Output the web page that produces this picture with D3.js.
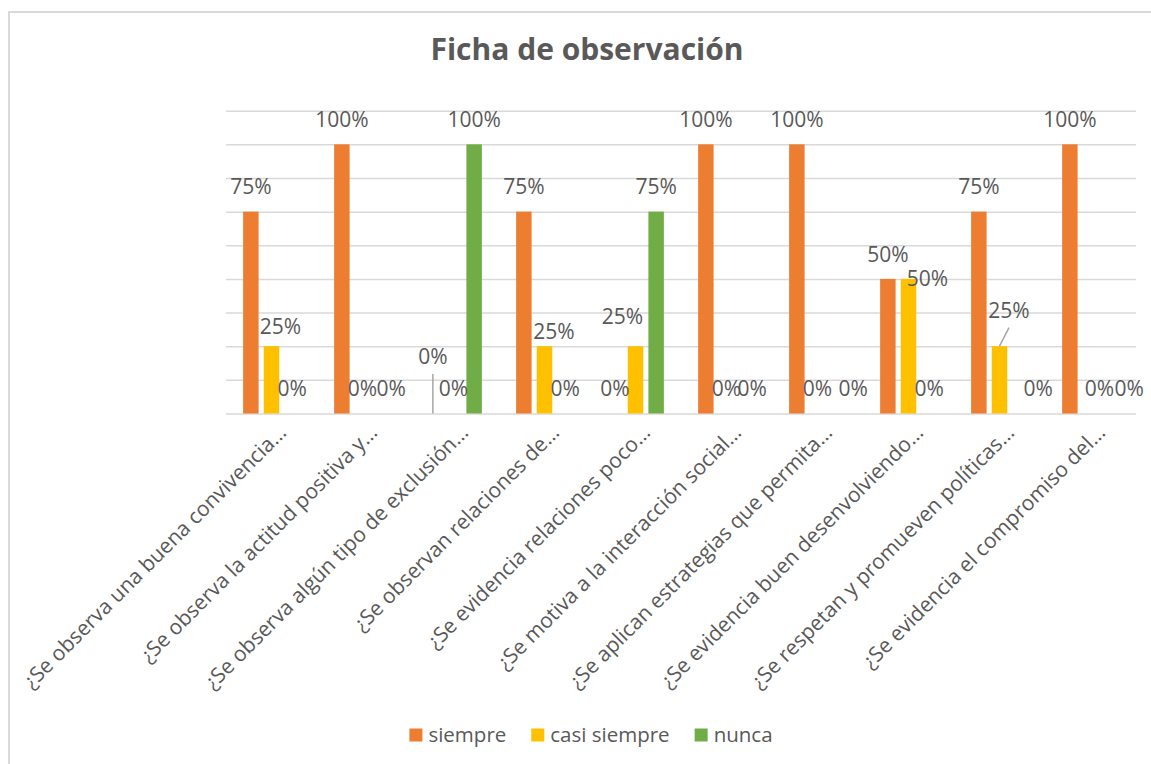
<!DOCTYPE html>
<html>
<head>
<meta charset="utf-8">
<script src="https://cdn.jsdelivr.net/npm/d3@7"></script>
<style>
  html, body { margin: 0; padding: 0; background: #fff; }
  svg { display: block; font-family: "Open Sans", sans-serif; }
</style>
</head>
<body>
<div id="chart"></div>
<script>
const categories = [
  "¿Se observa una buena convivencia…",
  "¿Se observa la actitud positiva y…",
  "¿Se observa algún tipo de exclusión…",
  "¿Se observan relaciones de…",
  "¿Se evidencia relaciones poco…",
  "¿Se motiva a la interacción social…",
  "¿Se aplican estrategias que permita…",
  "¿Se evidencia buen desenvolviendo…",
  "¿Se respetan y promueven políticas…",
  "¿Se evidencia el compromiso del…"
];
const seriesNames = ["siempre", "casi siempre", "nunca"];
const siempre     = [0.75, 1, 0, 0.75, 0, 1, 1, 0.5, 0.75, 1];
const casiSiempre = [0.25, 0, 0, 0.25, 0.25, 0, 0, 0.5, 0.25, 0];
const nunca       = [0, 0, 1, 0, 0.75, 0, 0, 0, 0, 0];
const gridTicks   = [0, 0.125, 0.25, 0.375, 0.5, 0.625, 0.75, 0.875, 1, 1.125];

const colors = { "siempre": "#ED7D31", "casi siempre": "#FFC000", "nunca": "#70AD47" };
const textColor = "#595959";
const width = 1151, height = 764;
const plot = { left: 226, right: 1136, top: 110.7, bottom: 413.5 };

// hand-moved data labels (as in the spreadsheet), keyed "category-series"
const labelNudge = {
  "0-1": [9, 5], "1-2": [8, 0], "2-0": [0, -32, true], "3-1": [9.5, 9.5],
  "4-1": [-13, -5], "5-2": [5, 0], "6-2": [15, 0], "7-1": [19, 24],
  "8-1": [9.5, -11, true], "8-2": [18, 0], "9-1": [9, 0], "9-2": [18, 0]
};

const values = [siempre, casiSiempre, nunca];
const rows = categories.map((c, i) => ({
  cat: c,
  vals: seriesNames.map((s, j) => ({ key: s, j, i, v: values[j][i] }))
}));

const svg = d3.select("#chart").append("svg")
  .attr("width", width).attr("height", height);

// chart border
svg.append("rect")
  .attr("x", 9).attr("y", 12)
  .attr("width", width + 20).attr("height", height + 20)
  .attr("fill", "#fff").attr("stroke", "#d9d9d9").attr("stroke-width", 2);

const x = d3.scaleBand().domain(categories).range([plot.left, plot.right]);
const xSub = d3.scaleBand().domain(seriesNames)
  .range([0, x.bandwidth()]).paddingInner(0.25).paddingOuter(0.83);
const y = d3.scaleLinear().domain([0, 1.125]).range([plot.bottom, plot.top]);

// gridlines
svg.append("g")
  .attr("class", "grid")
  .attr("transform", `translate(${plot.left},0)`)
  .call(d3.axisLeft(y).tickValues(gridTicks).tickSize(-(plot.right - plot.left)).tickFormat(""))
  .call(g => g.select(".domain").remove())
  .call(g => g.selectAll("line").attr("stroke", "#d9d9d9").attr("stroke-width", 1.5));

// bars
const groups = svg.append("g").attr("class", "bars")
  .selectAll("g")
  .data(rows)
  .join("g")
    .attr("transform", d => `translate(${x(d.cat)},0)`);

groups.selectAll("rect")
  .data(d => d.vals.filter(v => v.v > 0))
  .join("rect")
    .attr("x", d => xSub(d.key))
    .attr("y", d => y(d.v))
    .attr("width", xSub.bandwidth())
    .attr("height", d => y(0) - y(d.v))
    .attr("fill", d => colors[d.key]);

// data labels
const fmt = d3.format(".0%");
groups.each(function(row) {
  const g = d3.select(this);
  row.vals.forEach(d => {
    const n = labelNudge[`${d.i}-${d.j}`] || [0, 0];
    const cx = xSub(d.key) + xSub.bandwidth() / 2;
    const cy = y(d.v) - 24.5;
    if (n[2]) {
      g.append("line")
        .attr("x1", cx + n[0]).attr("y1", cy + n[1] + 17)
        .attr("x2", cx).attr("y2", y(d.v))
        .attr("stroke", "#a6a6a6").attr("stroke-width", 1.5);
    }
    g.append("text")
      .attr("x", cx + n[0])
      .attr("y", cy + n[1])
      .attr("dy", "0.35em")
      .attr("text-anchor", "middle")
      .attr("font-size", 21)
      .attr("fill", textColor)
      .text(fmt(d.v));
  });
});

// category labels
svg.append("g").attr("class", "xlabels")
  .selectAll("text")
  .data(categories)
  .join("text")
    .attr("transform", d => `translate(${x(d) + x.bandwidth() / 2 + 16},434) rotate(-45)`)
    .attr("text-anchor", "end")
    .attr("font-size", 21)
    .attr("fill", textColor)
    .text(d => d);

// title
svg.append("text")
  .attr("x", 587).attr("y", 60)
  .attr("text-anchor", "middle")
  .attr("font-size", 30)
  .attr("font-weight", "bold")
  .attr("fill", textColor)
  .text("Ficha de observación");

// legend
const legend = svg.append("g").attr("class", "legend");
const items = legend.selectAll("g").data(seriesNames).join("g");
items.append("rect")
  .attr("width", 13).attr("height", 13).attr("y", 728.5)
  .attr("fill", d => colors[d]);
items.append("text")
  .attr("x", 19).attr("y", 735).attr("dy", "0.35em")
  .attr("font-size", 20.5).attr("fill", textColor)
  .text(d => d);
let offset = 0;
const widths = [];
items.each(function() {
  const w = this.querySelector("text").getComputedTextLength() + 19;
  widths.push(w);
});
const total = d3.sum(widths) + 25 * (widths.length - 1);
offset = 591 - total / 2;
items.attr("transform", (d, i) => {
  const t = `translate(${offset},0)`;
  offset += widths[i] + 25;
  return t;
});
</script>
</body>
</html>
